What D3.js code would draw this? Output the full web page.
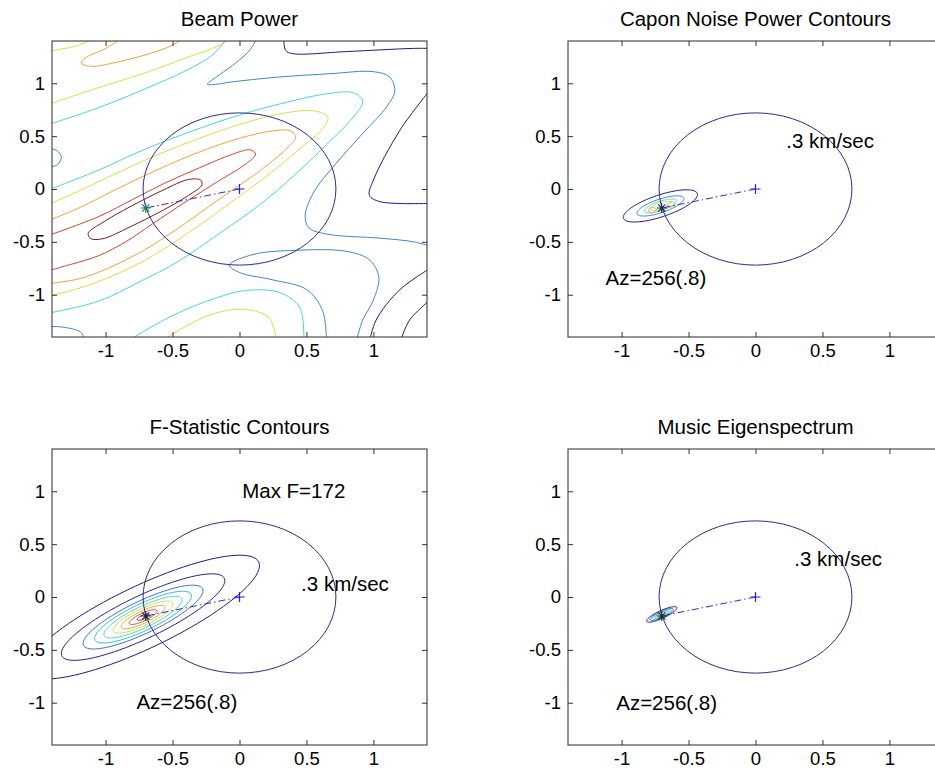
<!DOCTYPE html>
<html>
<head>
<meta charset="utf-8">
<script src="https://cdn.jsdelivr.net/npm/d3@7"></script>
<style>
  body { margin: 0; background: #fff; }
  text { font-family: "Liberation Sans", Arial, sans-serif; fill: #000; }
</style>
</head>
<body>
<div id="chart"></div>
<script>
// ---- data ----
const titles = ["Beam Power", "Capon Noise Power Contours", "F-Statistic Contours", "Music Eigenspectrum"];
const tickValues = [-1, -0.5, 0, 0.5, 1];
const tickLabels = ["-1", "-0.5", "0", "0.5", "1"];

const origin = [0, 0];
const peak = [-0.70, -0.18];      // Az=256, slowness .8 -> star
const circleRadius = 0.72;         // .3 km/sec ring

// beam power contour lines, level 1 (lowest) .. 7 (highest), points in slowness units
const beamContours = [
  { level: 7, closed: true, pts: [[-1.13,-0.42],[-1.00,-0.30],[-0.82,-0.17],[-0.57,-0.01],[-0.38,0.09],[-0.29,0.085],[-0.28,0.04],[-0.38,-0.06],[-0.57,-0.20],[-0.82,-0.36],[-1.02,-0.47],[-1.11,-0.47]] },
  { level: 6, closed: false, pts: [[-1.45,-0.45],[-1.05,-0.26],[-0.80,-0.10],[-0.55,0.06],[-0.30,0.20],[-0.05,0.33],[0.08,0.37],[0.12,0.33],[0.05,0.24],[-0.15,0.08],[-0.40,-0.12],[-0.65,-0.33],[-0.85,-0.50],[-1.05,-0.63],[-1.25,-0.71],[-1.45,-0.78]] },
  { level: 5, closed: false, pts: [[-1.45,-0.31],[-1.20,-0.18],[-0.90,0.01],[-0.60,0.19],[-0.30,0.35],[0.00,0.48],[0.25,0.55],[0.38,0.55],[0.42,0.49],[0.35,0.38],[0.15,0.17],[-0.10,-0.05],[-0.40,-0.32],[-0.70,-0.57],[-1.00,-0.76],[-1.20,-0.85],[-1.45,-0.90]] },
  { level: 4, closed: false, pts: [[-1.45,-0.16],[-1.20,-0.02],[-0.90,0.16],[-0.60,0.33],[-0.30,0.48],[0.00,0.61],[0.30,0.71],[0.55,0.74],[0.66,0.68],[0.62,0.57],[0.45,0.38],[0.20,0.12],[-0.10,-0.16],[-0.40,-0.43],[-0.70,-0.67],[-1.00,-0.85],[-1.20,-0.94],[-1.45,-1.02]] },
  { level: 3, closed: false, pts: [[-1.45,-0.02],[-1.05,0.18],[-0.70,0.38],[-0.35,0.55],[0.00,0.70],[0.35,0.82],[0.65,0.90],[0.85,0.91],[0.92,0.83],[0.85,0.68],[0.65,0.42],[0.40,0.12],[0.15,-0.15],[-0.15,-0.42],[-0.45,-0.68],[-0.75,-0.88],[-1.05,-1.06],[-1.45,-1.18]] },
  { level: 5, closed: false, pts: [[-0.85,1.45],[-1.00,1.33],[-1.15,1.24],[-1.18,1.19],[-1.10,1.16],[-0.95,1.19],[-0.70,1.27],[-0.50,1.36],[-0.40,1.45]] },
  { level: 4, closed: false, pts: [[-1.45,1.30],[-1.20,1.36],[-1.05,1.45]] },
  { level: 4, closed: false, pts: [[-1.45,0.79],[-1.05,0.96],[-0.70,1.10],[-0.40,1.24],[-0.15,1.36],[-0.05,1.45]] },
  { level: 3, closed: false, pts: [[-1.45,0.60],[-1.05,0.77],[-0.70,0.95],[-0.40,1.12],[-0.20,1.27],[-0.08,1.45]] },
  { level: 2, closed: false, pts: [[-1.45,0.40],[-1.36,0.36],[-1.33,0.30],[-1.36,0.23],[-1.45,0.20]] },
  { level: 2, closed: false, pts: [[0.14,1.45],[0.08,1.32],[-0.02,1.20],[-0.15,1.08],[-0.24,0.99],[-0.18,0.99],[-0.075,1.01],[0.30,1.06],[0.67,1.09],[1.00,1.11],[1.12,1.06],[1.16,0.93],[1.10,0.78],[0.92,0.525],[0.72,0.24],[0.55,-0.04],[0.49,-0.26],[0.52,-0.37],[0.67,-0.43],[1.05,-0.465],[1.30,-0.50],[1.45,-0.55]] },
  { level: 1, closed: false, pts: [[0.33,1.45],[0.345,1.31],[0.40,1.28],[0.80,1.30],[1.30,1.33],[1.45,1.33]] },
  { level: 1, closed: false, pts: [[1.45,0.98],[1.20,0.56],[1.00,0.085],[0.97,-0.06],[1.05,-0.12],[1.45,-0.135]] },
  { level: 2, closed: false, pts: [[-1.45,-1.30],[-1.30,-1.31],[-1.18,-1.36],[-1.16,-1.45]] },
  { level: 2, closed: false, pts: [[0.87,-1.45],[0.92,-1.24],[1.00,-1.05],[1.04,-0.83],[0.97,-0.67],[0.80,-0.59],[0.42,-0.58],[0.10,-0.62],[-0.075,-0.72],[0.00,-0.79],[0.25,-0.86],[0.50,-0.95],[0.62,-1.15],[0.65,-1.45]] },
  { level: 3, closed: false, pts: [[-0.85,-1.45],[-0.52,-1.21],[-0.22,-1.05],[0.05,-0.96],[0.30,-0.98],[0.45,-1.12],[0.48,-1.45]] },
  { level: 4, closed: false, pts: [[-0.60,-1.45],[-0.22,-1.19],[0.05,-1.14],[0.22,-1.22],[0.28,-1.45]] },
  { level: 1, closed: false, pts: [[1.45,-0.73],[1.20,-0.95],[1.02,-1.24],[0.97,-1.45]] },
  { level: 1, closed: false, pts: [[1.45,-1.02],[1.27,-1.24],[1.20,-1.45]] }
];

// elliptical contour families: shared centre and tilt, one semi-axis pair per level
const caponCenter = [-0.71, -0.16], caponTilt = 24;
const caponLevels = [1, 2, 3, 4];
const caponMajor = [0.30, 0.19, 0.13, 0.085];
const caponMinor = [0.10, 0.062, 0.042, 0.028];
const caponSpots = [[-0.77, -0.20], [-0.63, -0.145]];   // two small highest-level loops
const caponSpotRadius = 0.03;

const fCenter = [-0.72, -0.19], fTilt = 32;
const fLevels = [1, 2, 3, 4, 5, 6, 7, 8, 9];
const fMajor = [1.01, 0.71, 0.52, 0.42, 0.34, 0.26, 0.19, 0.12, 0.05];
const fMinor = [0.28, 0.19, 0.145, 0.12, 0.095, 0.075, 0.055, 0.035, 0.018];

const musicCenter = [-0.70, -0.165], musicTilt = 31;
const musicLevels = [1, 2, 3, 4, 5];
const musicMajor = [0.13, 0.10, 0.08, 0.06, 0.035];
const musicMinor = [0.035, 0.028, 0.023, 0.017, 0.011];

// text annotations [x, y, label] in slowness units
const speedLabel = ".3 km/sec";
const azLabel = "Az=256(.8)";
const maxFLabel = "Max F=172";
const caponNotes = [[0.23, 0.46, speedLabel], [-1.12, -0.84, azLabel]];
const fNotes = [[0.02, 1.0, maxFLabel], [0.46, 0.12, speedLabel], [-0.77, -0.99, azLabel]];
const musicNotes = [[0.29, 0.36, speedLabel], [-1.04, -1.0, azLabel]];

// ---- drawing ----
const W = 935, H = 774;
const svg = d3.select("#chart").append("svg").attr("width", W).attr("height", H);

const beamColor = d3.scaleOrdinal([1,2,3,4,5,6,7],
  ["#1c1c86", "#3f86c8", "#4fd3d3", "#dcdc4c", "#eaa43a", "#d6442c", "#7e1c1c"]);
const fColor = d3.scaleOrdinal([1,2,3,4,5,6,7,8,9],
  ["#1c1c86", "#22229a", "#3a74cc", "#3cbad8", "#56d8c0", "#d2e050", "#eaa43a", "#d6442c", "#7e1c1c"]);
const capColor = d3.scaleOrdinal([1,2,3,4,5], ["#1c1c86", "#3a86cc", "#4fd3d3", "#c8dc60", "#e89a40"]);
const musColor = d3.scaleOrdinal([1,2,3,4,5], ["#1c1c86", "#2a5ad0", "#30c0d8", "#40c060", "#a8d040"]);

const boxW = 375, boxH = 296;
const layout = [[52, 41], [568, 41], [52, 449], [568, 449]];

function makePanel(i) {
  const [left, top] = layout[i];
  const x = d3.scaleLinear().domain([-1.4, 1.4]).range([left, left + boxW]);
  const y = d3.scaleLinear().domain([-1.4, 1.4]).range([top + boxH, top]);
  const g = svg.append("g");

  g.append("clipPath").attr("id", "clip" + i)
    .append("rect").attr("x", left).attr("y", top).attr("width", boxW).attr("height", boxH);
  const plot = g.append("g").attr("clip-path", `url(#clip${i})`);

  // axes with inward ticks on all four sides
  const fmt = (d) => tickLabels[tickValues.indexOf(d)];
  g.append("g").attr("transform", `translate(0,${top + boxH})`)
    .call(d3.axisBottom(x).tickValues(tickValues).tickFormat(fmt).tickSizeInner(-5).tickSizeOuter(0).tickPadding(7));
  g.append("g").attr("transform", `translate(${left},0)`)
    .call(d3.axisLeft(y).tickValues(tickValues).tickFormat(fmt).tickSizeInner(-5).tickSizeOuter(0).tickPadding(7));
  g.append("g").attr("transform", `translate(0,${top})`)
    .call(d3.axisTop(x).tickValues(tickValues).tickFormat("").tickSizeInner(-5).tickSizeOuter(0));
  g.append("g").attr("transform", `translate(${left + boxW},0)`)
    .call(d3.axisRight(y).tickValues(tickValues).tickFormat("").tickSizeInner(-5).tickSizeOuter(0));
  g.selectAll(".domain").remove();
  g.selectAll(".tick line").attr("stroke", "#333");
  g.selectAll(".tick text").attr("font-size", 18.5).attr("fill", "#000")
    .attr("font-family", '"Liberation Sans", Arial, sans-serif');
  g.append("rect").attr("x", left).attr("y", top).attr("width", boxW).attr("height", boxH)
    .attr("fill", "none").attr("stroke", "#2a2a2a").attr("stroke-width", 1);

  g.append("text").attr("x", left + boxW / 2).attr("y", top - 15)
    .attr("text-anchor", "middle").attr("font-size", 20.5).text(titles[i]);

  return { x, y, plot, g };
}

function ellipsePts(c, a, b, tiltDeg) {
  const t = tiltDeg * Math.PI / 180, pts = [];
  for (let k = 0; k < 90; k++) {
    const s = 2 * Math.PI * k / 90;
    const u = a * Math.cos(s), v = b * Math.sin(s);
    pts.push([c[0] + u * Math.cos(t) - v * Math.sin(t), c[1] + u * Math.sin(t) + v * Math.cos(t)]);
  }
  return pts;
}

function drawRingAndBearing(p, starColor) {
  const { x, y, plot } = p;
  plot.append("ellipse")
    .attr("cx", x(0)).attr("cy", y(0))
    .attr("rx", x(circleRadius) - x(0)).attr("ry", y(0) - y(circleRadius))
    .attr("fill", "none").attr("stroke", "#2b2b8e").attr("stroke-width", 1);
  plot.append("line")
    .attr("x1", x(origin[0])).attr("y1", y(origin[1]))
    .attr("x2", x(peak[0])).attr("y2", y(peak[1]))
    .attr("stroke", "#2e2ec8").attr("stroke-width", 1).attr("stroke-dasharray", "7,3,1.5,3");
  // plus marker at the origin
  const ox = x(origin[0]), oy = y(origin[1]);
  plot.append("path").attr("d", `M${ox - 5},${oy}H${ox + 5}M${ox},${oy - 5}V${oy + 5}`)
    .attr("stroke", "#1e1ef0").attr("stroke-width", 1.2);
  // star marker at the peak
  const sx = x(peak[0]), sy = y(peak[1]);
  plot.append("path")
    .attr("d", `M${sx - 5},${sy}H${sx + 5}M${sx},${sy - 5}V${sy + 5}M${sx - 3.6},${sy - 3.6}L${sx + 3.6},${sy + 3.6}M${sx - 3.6},${sy + 3.6}L${sx + 3.6},${sy - 3.6}`)
    .attr("stroke", starColor).attr("stroke-width", 1.1);
}

function drawNotes(p, notes) {
  p.g.selectAll(null).data(notes).enter().append("text")
    .attr("x", (d) => p.x(d[0])).attr("y", (d) => p.y(d[1]))
    .attr("dy", "0.35em").attr("font-size", 20.5).text((d) => d[2]);
}

function drawEllipses(p, center, tilt, levels, major, minor, color) {
  const line = d3.line().x((d) => p.x(d[0])).y((d) => p.y(d[1])).curve(d3.curveLinearClosed);
  levels.forEach((lv, k) => {
    p.plot.append("path").attr("d", line(ellipsePts(center, major[k], minor[k], tilt)))
      .attr("fill", "none").attr("stroke", color(lv)).attr("stroke-width", 1);
  });
}

// 1. Beam power
const p0 = makePanel(0);
beamContours.forEach((c) => {
  const line = d3.line().x((d) => p0.x(d[0])).y((d) => p0.y(d[1]))
    .curve(c.closed ? d3.curveCatmullRomClosed : d3.curveCatmullRom);
  p0.plot.append("path").attr("d", line(c.pts))
    .attr("fill", "none").attr("stroke", beamColor(c.level)).attr("stroke-width", 1);
});
drawRingAndBearing(p0, "#1f7a5a");

// 2. Capon
const p1 = makePanel(1);
drawEllipses(p1, caponCenter, caponTilt, caponLevels, caponMajor, caponMinor, capColor);
caponSpots.forEach((s) => {
  const line = d3.line().x((d) => p1.x(d[0])).y((d) => p1.y(d[1])).curve(d3.curveLinearClosed);
  p1.plot.append("path").attr("d", line(ellipsePts(s, caponSpotRadius, caponSpotRadius * 0.8, caponTilt)))
    .attr("fill", "none").attr("stroke", capColor(5)).attr("stroke-width", 1);
});
drawRingAndBearing(p1, "#1b2a40");
drawNotes(p1, caponNotes);

// 3. F statistic
const p2 = makePanel(2);
drawEllipses(p2, fCenter, fTilt, fLevels, fMajor, fMinor, fColor);
drawRingAndBearing(p2, "#1b2a40");
drawNotes(p2, fNotes);

// 4. Music
const p3 = makePanel(3);
drawEllipses(p3, musicCenter, musicTilt, musicLevels, musicMajor, musicMinor, musColor);
drawRingAndBearing(p3, "#1b2a40");
drawNotes(p3, musicNotes);
</script>
</body>
</html>
